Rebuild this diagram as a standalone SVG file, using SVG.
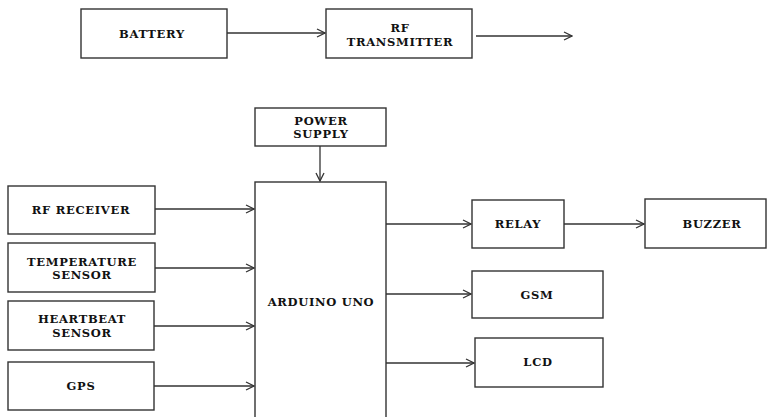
<svg xmlns="http://www.w3.org/2000/svg" width="768" height="417" viewBox="0 0 768 417">
<defs>
<marker id="arr" markerWidth="10" markerHeight="10" refX="9" refY="5" orient="auto" markerUnits="userSpaceOnUse">
<path d="M1,1 L9,5 L1,9" fill="none" stroke="#333" stroke-width="1.3"/>
</marker>
<style>
.box{fill:#fff;stroke:#333;stroke-width:1.4}
.lbl{font-family:"DejaVu Serif",serif;font-weight:bold;font-size:11.5px;letter-spacing:0.7px;fill:#111;text-anchor:middle}
.con{stroke:#333;stroke-width:1.3;fill:none;marker-end:url(#arr)}
</style>
</defs>
<rect width="768" height="417" fill="#fff"/>
<g id="battery"><rect class="box" x="81" y="9" width="146" height="49"/><text class="lbl" x="152" y="38">BATTERY</text></g>
<g id="rf-transmitter"><rect class="box" x="326" y="9" width="146" height="49"/><text class="lbl" x="400" y="32">RF</text><text class="lbl" x="400" y="46">TRANSMITTER</text></g>
<g id="power-supply"><rect class="box" x="255" y="108" width="131" height="38"/><text class="lbl" x="321" y="125">POWER</text><text class="lbl" x="321" y="138">SUPPLY</text></g>
<g id="arduino"><rect class="box" x="255" y="182" width="131" height="240"/><text class="lbl" x="321" y="306">ARDUINO UNO</text></g>
<g id="rf-receiver"><rect class="box" x="8" y="186" width="147" height="48"/><text class="lbl" x="81" y="214">RF RECEIVER</text></g>
<g id="temperature-sensor"><rect class="box" x="8" y="243" width="147" height="49"/><text class="lbl" x="82" y="266">TEMPERATURE</text><text class="lbl" x="82" y="279">SENSOR</text></g>
<g id="heartbeat-sensor"><rect class="box" x="8" y="301" width="146" height="49"/><text class="lbl" x="82" y="323">HEARTBEAT</text><text class="lbl" x="82" y="337">SENSOR</text></g>
<g id="gps"><rect class="box" x="8" y="362" width="146" height="48"/><text class="lbl" x="81" y="390">GPS</text></g>
<g id="relay"><rect class="box" x="472" y="200" width="92" height="48"/><text class="lbl" x="518" y="228">RELAY</text></g>
<g id="buzzer"><rect class="box" x="645" y="199" width="121" height="49"/><text class="lbl" x="712" y="228">BUZZER</text></g>
<g id="gsm"><rect class="box" x="472" y="271" width="131" height="47"/><text class="lbl" x="537" y="299">GSM</text></g>
<g id="lcd"><rect class="box" x="475" y="338" width="128" height="49"/><text class="lbl" x="538" y="366">LCD</text></g>
<g id="connectors">
<line class="con" x1="227" y1="33" x2="325" y2="33"/>
<line class="con" x1="476" y1="36" x2="572" y2="36"/>
<line class="con" x1="320" y1="146" x2="320" y2="181"/>
<line class="con" x1="155" y1="209" x2="254" y2="209"/>
<line class="con" x1="155" y1="268" x2="254" y2="268"/>
<line class="con" x1="154" y1="326" x2="254" y2="326"/>
<line class="con" x1="154" y1="386" x2="254" y2="386"/>
<line class="con" x1="386" y1="224" x2="471" y2="224"/>
<line class="con" x1="564" y1="224" x2="644" y2="224"/>
<line class="con" x1="386" y1="294" x2="471" y2="294"/>
<line class="con" x1="386" y1="363" x2="474" y2="363"/>
</g>
</svg>
